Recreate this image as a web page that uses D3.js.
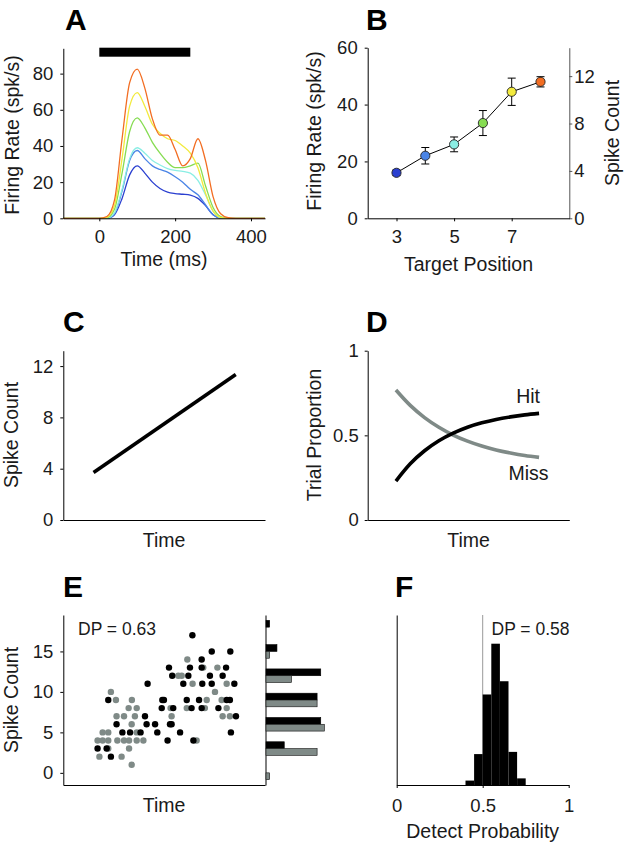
<!DOCTYPE html>
<html><head><meta charset="utf-8">
<script src="https://cdn.jsdelivr.net/npm/d3@7"></script>
<style>
body{margin:0;background:#fff;}
svg{display:block;font-family:"Liberation Sans",Arial,Helvetica,sans-serif;}
</style></head><body>
<svg id="fig" width="625" height="843"></svg>
<script>
// ---------- DATA ----------
// Panel A: firing rate (spk/s) over time (ms), one series per target position
const timesA = [-95, 0, 20, 40, 60, 80, 100, 120, 140, 160, 180, 200, 220, 240, 260, 280, 300, 320, 340, 360, 437];
const rateP3 = [0, 0, 0, 2, 11, 24, 29, 25, 20, 16.5, 14.5, 13.7, 13.3, 12.8, 11, 7, 2, 0.2, 0, 0, 0];
const rateP4 = [0, 0, 0, 2.5, 15, 32, 37.5, 33, 29, 27, 25.5, 23, 20, 16, 13, 7.5, 2, 0.2, 0, 0, 0];
const rateP5 = [0, 0, 0, 3, 16, 33, 39, 36, 32, 29.5, 27.5, 26.5, 26, 25, 21, 13, 4, 0.3, 0, 0, 0];
const rateP6 = [0, 0, 0.3, 5, 25, 48, 55.5, 50, 42, 36, 31, 28, 28, 29, 30.5, 18, 6, 1, 0, 0, 0];
const rateP7 = [0, 0, 0.5, 7, 33, 62, 69.5, 62, 52, 47, 44, 43, 40, 36, 28, 14, 4, 0.5, 0, 0, 0];
const rateP8 = [0, 0, 1, 10, 44, 75, 82.5, 72, 55, 46, 46, 38, 29, 33, 44, 32, 12, 2.5, 0.3, 0, 0];
const stimWindow = [0, 240];
const posColors = ["#2a3fd0", "#4a84e6", "#8aeee4", "#86dc52", "#f2ea3e", "#f26d22"];

// Panel B: mean firing rate vs target position
const positions = [3, 4, 5, 6, 7, 8];
const meanRate = [16, 22, 26, 33.5, 44.5, 48];
const semRate = [1, 2.9, 2.6, 4.4, 4.8, 1.8];

// Panel C: spike count vs time (schematic)
const timeC = [1.5, 8.55];
const countC = [3.7, 11.35];

// Panel D: trial proportion vs time
const timeD = [1.4, 2.11, 2.82, 3.53, 4.24, 4.95, 5.66, 6.37, 7.08, 7.79, 8.5];
const hitProp = [0.23, 0.332, 0.409, 0.468, 0.513, 0.548, 0.574, 0.594, 0.609, 0.621, 0.63];
const missProp = [0.768, 0.677, 0.605, 0.548, 0.502, 0.466, 0.437, 0.414, 0.396, 0.381, 0.37];

// Panel E: single-trial spike counts (time, count) for hit and miss trials
const hitTime  = [2.36, 1.70, 2.15, 5.17, 6.45, 2.93, 3.31, 3.83, 4.66, 5.79, 8.31, 2.64, 4.13, 4.55, 5.29, 5.37, 4.05, 8.56, 4.88, 5.45, 6.36, 6.86, 7.69, 2.23, 4.91, 4.99, 6.12, 6.73, 8.10, 8.26, 4.18, 5.95, 6.89, 7.36, 8.48, 5.40, 6.20, 7.27, 7.90, 5.24, 6.28, 6.86, 8.07, 6.86, 7.36, 8.28, 6.40];
const hitCount = [2, 3, 3, 4, 4, 5, 5, 5, 5, 5, 5, 6, 6, 6, 6, 6, 7, 7, 8, 8, 8, 8, 8, 9, 9, 9, 9, 9, 9, 9, 11, 11, 11, 11, 11, 12, 12, 12, 12, 13, 13, 13, 13, 14, 15, 15, 17];
const missTime  = [3.39, 1.79, 2.89, 2.23, 3.26, 1.70, 1.95, 2.23, 2.68, 3.01, 3.26, 3.64, 3.97, 6.61, 1.95, 2.23, 3.64, 3.39, 2.64, 3.01, 3.55, 5.37, 7.90, 8.26, 3.24, 3.64, 5.32, 6.12, 7.02, 8.10, 2.61, 3.40, 7.11, 7.85, 2.36, 7.52, 6.41, 8.10, 5.70, 5.87, 6.94, 7.64, 6.15];
const missCount = [1, 2, 2, 3, 3, 4, 4, 4, 4, 4, 4, 4, 4, 4, 5, 5, 5, 6, 7, 7, 7, 7, 7, 7, 8, 8, 8, 8, 8, 8, 9, 9, 9, 9, 10, 10, 11, 11, 12, 12, 13, 13, 14];
const histBins = [0, 3, 6, 9, 12, 15, 18];
const histHit  = [0, 5, 15, 14, 15, 3, 1];
const histMiss = [1, 14, 16, 14, 7, 1, 0];
const dpE = "DP = 0.63";

// Panel F: distribution of detect probability
const dpBinStart = [0.40, 0.45, 0.50, 0.55, 0.60, 0.65, 0.70];
const dpCounts = [2, 14, 41, 64, 47, 15, 3];
const dpBinWidth = 0.05;
const dpF = "DP = 0.58";

// ---------- DRAW ----------
const svg = d3.select("#fig");
const FONT = '"Liberation Sans",Arial,Helvetica,sans-serif';
const TICK_FS = 18.5, LABEL_FS = 19.5, LETTER_FS = 30;
const MISS = "#7f8a87", TXT = "#1a1a1a";
const fmtNum = d => d === 0.5 ? "0.5" : d3.format("d")(d);

function axis(x, y, ax, domainColor) {
  const g = svg.append("g").attr("transform", `translate(${x},${y})`).call(ax);
  g.attr("font-family", FONT).attr("font-size", TICK_FS);
  g.select(".domain").attr("stroke", domainColor || "#000").attr("stroke-width", 1);
  g.selectAll(".tick line").attr("stroke", domainColor || "#000");
  g.selectAll(".tick text").attr("fill", TXT);
  return g;
}
function label(txt, x, y, rot, size, anchor) {
  const t = svg.append("text").text(txt).attr("font-size", size || LABEL_FS)
    .attr("fill", TXT).attr("text-anchor", anchor || "middle");
  if (rot) t.attr("transform", `translate(${x},${y}) rotate(-90)`);
  else t.attr("x", x).attr("y", y);
  return t;
}
function letter(txt, x, y) {
  svg.append("text").text(txt).attr("x", x).attr("y", y)
    .attr("font-size", LETTER_FS).attr("font-weight", "bold").attr("fill", "#000");
}

// ===== Panel A =====
{
  const x = d3.scaleLinear().domain([-95, 437]).range([63.3, 265]);
  const y = d3.scaleLinear().domain([0, 94]).range([218.3, 48.3]);
  const series = [rateP3, rateP4, rateP5, rateP6, rateP7, rateP8];
  const line = d3.line().x((d, i) => x(timesA[i])).y(d => y(d)).curve(d3.curveMonotoneX);
  series.forEach((s, k) => {
    svg.append("path").attr("d", line(s)).attr("fill", "none")
      .attr("stroke", posColors[k]).attr("stroke-width", 1.3);
  });
  svg.append("rect").attr("x", x(stimWindow[0])).attr("width", x(stimWindow[1]) - x(stimWindow[0]))
    .attr("y", 47.7).attr("height", 9).attr("fill", "#000");
  axis(63.3, 0, d3.axisLeft(y).tickValues([0, 20, 40, 60, 80]).tickSize(3).tickPadding(7).tickSizeOuter(0));
  axis(0, 218.3, d3.axisBottom(x).tickValues([0, 200, 400]).tickFormat(fmtNum).tickSize(3).tickPadding(9).tickSizeOuter(0));
  label("Time (ms)", 164, 266);
  label("Firing Rate (spk/s)", 18.5, 135, true);
  letter("A", 65, 30);
}

// ===== Panel B =====
{
  const x = d3.scaleLinear().domain([2, 9]).range([367.7, 569.3]);
  const y = d3.scaleLinear().domain([0, 60]).range([218.3, 47.7]);
  const y2 = d3.scaleLinear().domain([0, 14.4]).range([218.3, 47.7]);
  axis(569.3, 0, d3.axisRight(y2).tickValues([0, 4, 8, 12]).tickFormat(fmtNum).tickSize(3).tickPadding(2).tickSizeOuter(0), "#555");
  axis(367.7, 0, d3.axisLeft(y).tickValues([0, 20, 40, 60]).tickFormat(fmtNum).tickSize(3).tickPadding(7).tickSizeOuter(0));
  axis(0, 218.3, d3.axisBottom(x).tickValues([3, 5, 7]).tickFormat(fmtNum).tickSize(3).tickPadding(9).tickSizeOuter(0));
  const line = d3.line().x((d, i) => x(positions[i])).y(d => y(d));
  svg.append("path").attr("d", line(meanRate)).attr("fill", "none").attr("stroke", "#000").attr("stroke-width", 1);
  const eb = svg.append("g").attr("stroke", "#000").attr("stroke-width", 1);
  positions.forEach((p, i) => {
    const cx = x(p), top = y(meanRate[i] + semRate[i]), bot = y(meanRate[i] - semRate[i]);
    eb.append("line").attr("x1", cx).attr("x2", cx).attr("y1", top).attr("y2", bot);
    eb.append("line").attr("x1", cx - 4).attr("x2", cx + 4).attr("y1", top).attr("y2", top);
    eb.append("line").attr("x1", cx - 4).attr("x2", cx + 4).attr("y1", bot).attr("y2", bot);
  });
  svg.append("g").selectAll("circle").data(meanRate).join("circle")
    .attr("cx", (d, i) => x(positions[i])).attr("cy", d => y(d)).attr("r", 4.6)
    .attr("fill", (d, i) => posColors[i]).attr("stroke", "#222").attr("stroke-width", 0.9);
  label("Target Position", 468.5, 271);
  label("Firing Rate (spk/s)", 321, 131, true);
  label("Spike Count", 619, 133, true);
  letter("B", 366, 30);
}

// ===== Panel C =====
{
  const x = d3.scaleLinear().domain([0, 10]).range([63.3, 265]);
  const y = d3.scaleLinear().domain([0, 13.2]).range([520, 350.7]);
  axis(63.3, 0, d3.axisLeft(y).tickValues([0, 4, 8, 12]).tickFormat(fmtNum).tickSize(3).tickPadding(7).tickSizeOuter(0));
  axis(0, 520, d3.axisBottom(x).tickValues([]).tickSizeOuter(0));
  const line = d3.line().x((d, i) => x(timeC[i])).y(d => y(d));
  svg.append("path").attr("d", line(countC)).attr("fill", "none").attr("stroke", "#000").attr("stroke-width", 3.6);
  label("Time", 164, 546.5);
  label("Spike Count", 17.5, 435, true);
  letter("C", 63, 332);
}

// ===== Panel D =====
{
  const x = d3.scaleLinear().domain([0, 10]).range([367.7, 569.3]);
  const y = d3.scaleLinear().domain([0, 1]).range([520, 350.7]);
  axis(367.7, 0, d3.axisLeft(y).tickValues([0, 0.5, 1]).tickFormat(fmtNum).tickSize(3).tickPadding(6).tickSizeOuter(0));
  axis(0, 520, d3.axisBottom(x).tickValues([]).tickSizeOuter(0));
  const line = d3.line().x((d, i) => x(timeD[i])).y(d => y(d)).curve(d3.curveMonotoneX);
  svg.append("path").attr("d", line(missProp)).attr("fill", "none").attr("stroke", MISS).attr("stroke-width", 3.6);
  svg.append("path").attr("d", line(hitProp)).attr("fill", "none").attr("stroke", "#000").attr("stroke-width", 3.6);
  label("Hit", 540, 403, false, LABEL_FS, "end");
  label("Miss", 548.5, 480, false, LABEL_FS, "end");
  label("Time", 468.5, 546.5);
  label("Trial Proportion", 321, 435, true);
  letter("D", 366, 332);
}

// ===== Panel E =====
{
  const x = d3.scaleLinear().domain([0, 10]).range([63.3, 265]);
  const y = d3.scaleLinear().domain([-1.5, 19.5]).range([785, 615]);
  const xh = d3.scaleLinear().domain([0, 16]).range([266, 324.4]);
  axis(63.3, 0, d3.axisLeft(y).tickValues([0, 5, 10, 15]).tickFormat(fmtNum).tickSize(3).tickPadding(7).tickSizeOuter(0));
  axis(0, 785, d3.axisBottom(x).tickValues([]).tickSizeOuter(0));
  axis(265.5, 0, d3.axisLeft(y).tickValues([]).tickSizeOuter(0));
  svg.append("g").selectAll("circle").data(missCount).join("circle")
    .attr("cx", (d, i) => x(missTime[i])).attr("cy", d => y(d)).attr("r", 3.2).attr("fill", MISS);
  svg.append("g").selectAll("circle").data(hitCount).join("circle")
    .attr("cx", (d, i) => x(hitTime[i])).attr("cy", d => y(d)).attr("r", 3.2).attr("fill", "#000");
  const BH = 6.8;
  svg.append("g").selectAll("rect").data(histHit).join("rect")
    .attr("x", xh(0)).attr("width", d => xh(d) - xh(0))
    .attr("y", (d, i) => y(histBins[i]) - BH).attr("height", BH)
    .attr("fill", "#000").attr("stroke", "#000").attr("stroke-width", 0.6)
    .attr("display", d => d > 0 ? null : "none");
  svg.append("g").selectAll("rect").data(histMiss).join("rect")
    .attr("x", xh(0)).attr("width", d => xh(d) - xh(0))
    .attr("y", (d, i) => y(histBins[i])).attr("height", BH)
    .attr("fill", MISS).attr("stroke", "#111").attr("stroke-width", 0.6)
    .attr("display", d => d > 0 ? null : "none");
  label(dpE, 78, 635, false, 17.5, "start");
  label("Time", 164, 811.5);
  label("Spike Count", 17.5, 700, true);
  letter("E", 63, 597);
}

// ===== Panel F =====
{
  const x = d3.scaleLinear().domain([0, 1]).range([396.7, 568.7]);
  const y = d3.scaleLinear().domain([0, 77]).range([785, 615]);
  svg.append("line").attr("x1", x(0.5)).attr("x2", x(0.5)).attr("y1", y(0)).attr("y2", y(77))
    .attr("stroke", "#999").attr("stroke-width", 1);
  svg.append("g").selectAll("rect").data(dpCounts).join("rect")
    .attr("x", (d, i) => x(dpBinStart[i])).attr("width", (d, i) => x(dpBinStart[i] + dpBinWidth) - x(dpBinStart[i]))
    .attr("y", d => y(d)).attr("height", d => y(0) - y(d)).attr("fill", "#000");
  axis(396.7, 0, d3.axisLeft(y).tickValues([]).tickSizeOuter(0));
  axis(0, 785, d3.axisBottom(x).tickValues([0, 0.5, 1]).tickFormat(fmtNum).tickSize(3).tickPadding(11).tickSizeOuter(0));
  label(dpF, 491.5, 635, false, 17.5, "start");
  label("Detect Probability", 482.7, 838);
  letter("F", 395, 597);
}
</script>
</body></html>
